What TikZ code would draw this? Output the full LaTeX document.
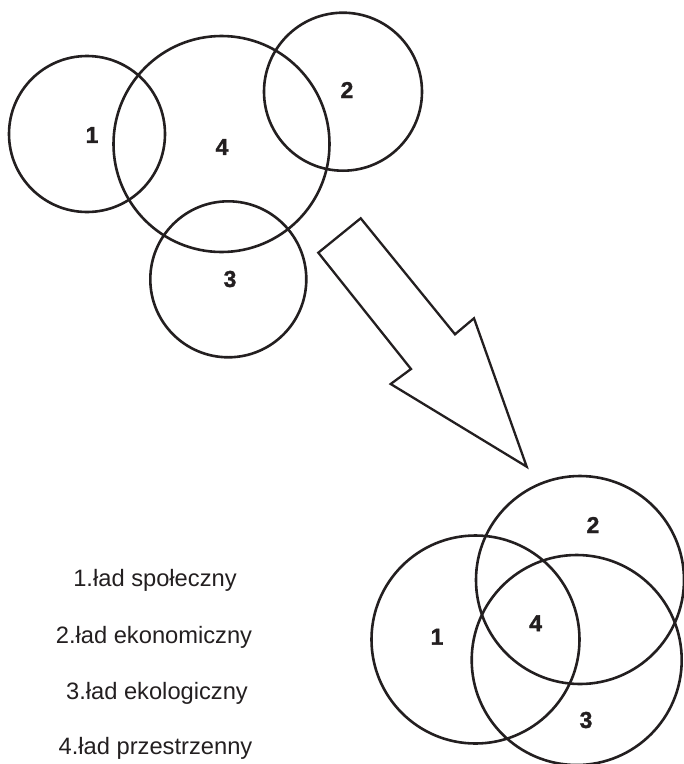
\documentclass[tikz,border=0pt]{standalone}
\usepackage{fontspec}
\setmainfont{Liberation Sans}
\newfontfamily\heavyfont[FakeBold=1.5]{Liberation Sans Bold}
\begin{document}
\begin{tikzpicture}[x=1pt,y=-1pt,
  ring/.style={circle,draw=ink,line width=2.6pt,inner sep=0pt},
  num/.style={font=\heavyfont\fontsize{23}{23}\selectfont,text=ink,inner sep=0pt},
  legend/.style={font=\fontsize{23.7}{24}\selectfont,text=ink,inner sep=0pt},
  arrowshape/.style={draw=ink,line width=2.3pt,line join=miter}]
\definecolor{ink}{HTML}{231F20}
\useasboundingbox (0,0) rectangle (684,764);
% top cluster
\node[ring,minimum size=156pt] (t1) at (87,134) {};
\node[ring,minimum size=216pt] (t4) at (221.5,144) {};
\node[ring,minimum size=158pt] (t2) at (343,91.7) {};
\node[ring,minimum size=156pt] (t3) at (228.3,279.3) {};
\node[num] (lt1) at (92,135) {1};
\node[num] (lt4) at (222,147) {4};
\node[num] (lt2) at (347,90) {2};
\node[num] (lt3) at (230,279) {3};
% arrow
\coordinate (a1) at (360.7,218.3);
\coordinate (a2) at (318.3,252.7);
\coordinate (a3) at (411,369);
\coordinate (a4) at (390.7,384);
\coordinate (a5) at (526.7,466.7);
\coordinate (a6) at (474,318.3);
\coordinate (a7) at (455,334.3);
\draw[arrowshape] (a1) -- (a2) -- (a3) -- (a4) -- (a5) -- (a6) -- (a7) -- cycle;
% bottom cluster
\node[ring,minimum size=208pt] (b1) at (475.5,639.5) {};
\node[ring,minimum size=208pt] (b2) at (580,580) {};
\node[ring,minimum size=210pt] (b3) at (576.7,660) {};
\node[num] (lb1) at (437,636.7) {1};
\node[num] (lb4) at (535.7,623.3) {4};
\node[num] (lb2) at (593,525) {2};
\node[num] (lb3) at (586,720) {3};
% legend
\node[legend] (g1) at (155,580) {1.ład społeczny};
\node[legend] (g2) at (154,637) {2.ład ekonomiczny};
\node[legend] (g3) at (157,693) {3.ład ekologiczny};
\node[legend] (g4) at (155.5,748) {4.ład przestrzenny};
\end{tikzpicture}
\end{document}
